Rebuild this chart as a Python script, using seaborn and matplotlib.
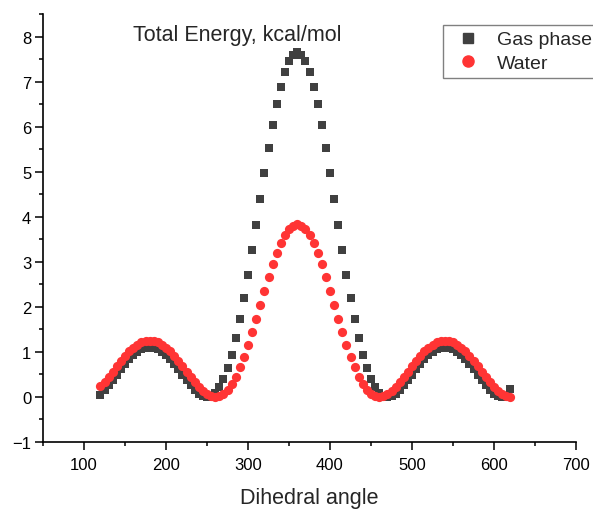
import matplotlib
matplotlib.use("Agg")
import matplotlib.pyplot as plt
from matplotlib.lines import Line2D
from matplotlib.ticker import MultipleLocator
import pandas as pd
import seaborn as sns

# Dihedral scan, 5 degree steps
angles = list(range(120, 625, 5))

gas_phase = [
    0.05, 0.16, 0.26, 0.37, 0.49, 0.61, 0.73, 0.84, 0.93, 1.00, 1.06, 1.09, 1.10,
    1.09, 1.06, 1.00, 0.93, 0.84, 0.73, 0.61, 0.49, 0.37, 0.26, 0.16, 0.07,
    0.02, 0.00, 0.02, 0.09, 0.22, 0.40, 0.64, 0.94, 1.31, 1.73, 2.20, 2.71,
    3.26, 3.82, 4.40, 4.97, 5.52, 6.03, 6.50, 6.89, 7.22, 7.46, 7.60, 7.65,
    7.60, 7.46, 7.22, 6.89, 6.50, 6.03, 5.52, 4.97, 4.40, 3.82, 3.26, 2.71,
    2.20, 1.73, 1.31, 0.94, 0.64, 0.40, 0.22, 0.09, 0.02, 0.00, 0.02, 0.07,
    0.16, 0.26, 0.37, 0.49, 0.61, 0.73, 0.84, 0.93, 1.00, 1.06, 1.09, 1.10,
    1.09, 1.06, 1.00, 0.93, 0.84, 0.73, 0.61, 0.49, 0.37, 0.26, 0.16, 0.07,
    0.02, 0.00, 0.02, 0.18,
]

water = [
    0.25, 0.33, 0.44, 0.56, 0.68, 0.80, 0.91, 1.01, 1.09, 1.16, 1.21, 1.24, 1.25,
    1.24, 1.21, 1.16, 1.09, 1.01, 0.91, 0.80, 0.68, 0.56, 0.44, 0.33, 0.22,
    0.13, 0.06, 0.02, 0.00, 0.02, 0.07, 0.16, 0.29, 0.45, 0.66, 0.89, 1.15,
    1.44, 1.74, 2.05, 2.36, 2.66, 2.94, 3.19, 3.41, 3.59, 3.72, 3.80, 3.83,
    3.80, 3.72, 3.59, 3.41, 3.19, 2.94, 2.66, 2.36, 2.05, 1.74, 1.44, 1.15,
    0.89, 0.66, 0.45, 0.29, 0.16, 0.07, 0.02, 0.00, 0.02, 0.06, 0.13, 0.22,
    0.33, 0.44, 0.56, 0.68, 0.80, 0.91, 1.01, 1.09, 1.16, 1.21, 1.24, 1.25,
    1.24, 1.21, 1.16, 1.09, 1.01, 0.91, 0.80, 0.68, 0.56, 0.44, 0.33, 0.22,
    0.13, 0.06, 0.02, 0.00,
]

series_names = ["Gas phase", "Water"]
series_colors = ["#404040", "#ff3434"]
series_markers = ["s", "o"]
series_sizes = [26, 44]

x_ticks = [100, 200, 300, 400, 500, 600, 700]
y_ticks = [-1, 0, 1, 2, 3, 4, 5, 6, 7, 8]

sns.set_style("ticks")
plt.rcParams["font.family"] = ["Liberation Sans", "DejaVu Sans"]

df = pd.DataFrame({
    "angle": angles * 2,
    "energy": gas_phase + water,
    "phase": [series_names[0]] * len(angles) + [series_names[1]] * len(angles),
})

fig = plt.figure(figsize=(5.93, 5.10), dpi=100)
ax = fig.add_axes([43 / 593, 67 / 510, 533 / 593, 428 / 510])

for name, color, marker, size in zip(series_names, series_colors, series_markers, series_sizes):
    sub = df[df["phase"] == name]
    sns.scatterplot(data=sub, x="angle", y="energy", ax=ax, color=color,
                    marker=marker, s=size, linewidth=0, legend=False)

ax.set_xlim(50, 700)
ax.set_ylim(-1, 8.5)
ax.set_xticks(x_ticks)
ax.set_yticks(y_ticks)
ax.xaxis.set_minor_locator(MultipleLocator(50))
ax.yaxis.set_minor_locator(MultipleLocator(0.5))

sns.despine(ax=ax)
for side in ("left", "bottom"):
    ax.spines[side].set_linewidth(1.2)
    ax.spines[side].set_color("black")

ax.tick_params(which="major", direction="out", length=5.5, width=1.1,
               labelsize=12, colors="black")
ax.tick_params(axis="x", which="major", pad=5)
ax.tick_params(axis="y", which="major", pad=3)
ax.tick_params(which="minor", direction="out", length=2.6, width=1.1, colors="black")

ax.set_xlabel("Dihedral angle", fontsize=15.5, labelpad=11)
ax.set_ylabel("")

ax.text(160, 7.92, "Total Energy, kcal/mol", fontsize=15.5, ha="left", va="baseline")

handles = [
    Line2D([], [], linestyle="none", marker=m, color=c, markersize=ms, label=n)
    for n, c, m, ms in zip(series_names, series_colors, series_markers, [6.5, 8])
]
leg = ax.legend(handles=handles, loc="upper left", bbox_to_anchor=(0.7505, 0.974),
                fontsize=14, frameon=True, fancybox=False, borderpad=0.29,
                handlelength=2.0, handletextpad=0.5, labelspacing=0.32,
                borderaxespad=0)
leg.get_frame().set_edgecolor("#808080")
leg.get_frame().set_linewidth(1.0)
leg.get_frame().set_alpha(1)

fig.savefig("out.png", dpi=100)
